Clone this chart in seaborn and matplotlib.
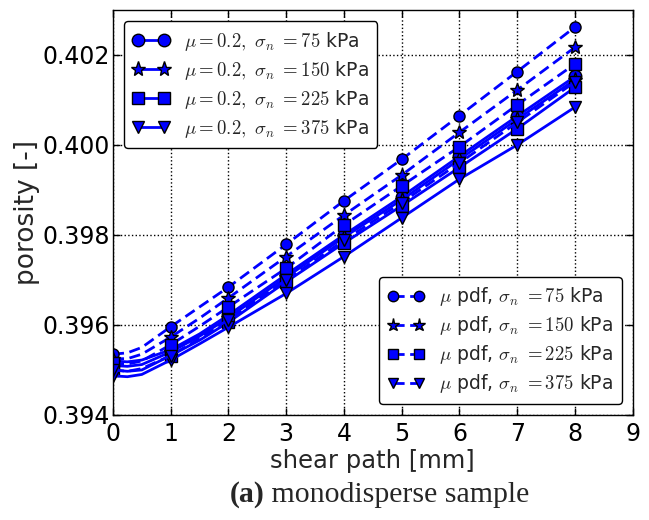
import matplotlib
matplotlib.use("Agg")
import matplotlib.pyplot as plt
import seaborn as sns
from matplotlib.lines import Line2D

sns.set_theme(style="ticks")
plt.rcParams['font.family'] = ['DejaVu Sans']
plt.rcParams['mathtext.fontset'] = 'cm'

# shear path [mm]
shear = [0, 0.25, 0.5, 1, 1.5, 2, 3, 4, 5, 6, 7, 8]
marker_idx = [0, 3, 5, 6, 7, 8, 9, 10, 11]

# mu = 0.2 (solid)
s75 = [0.39520, 0.39518, 0.39522, 0.39545, 0.39580, 0.39622, 0.39712, 0.39800, 0.39885, 0.39975, 0.40064, 0.40152]
s150 = [0.39510, 0.39508, 0.39512, 0.39540, 0.39575, 0.39616, 0.39706, 0.39795, 0.39878, 0.39968, 0.40057, 0.40145]
s225 = [0.39500, 0.39497, 0.39500, 0.39532, 0.39566, 0.39606, 0.39696, 0.39782, 0.39865, 0.39950, 0.40036, 0.40128]
s375 = [0.39487, 0.39485, 0.39490, 0.39522, 0.39558, 0.39595, 0.39670, 0.39752, 0.39838, 0.39924, 0.40000, 0.40084]

# mu pdf (dashed)
d75 = [0.39535, 0.39538, 0.39550, 0.39596, 0.39640, 0.39684, 0.39779, 0.39876, 0.39968, 0.40065, 0.40163, 0.40262]
d150 = [0.39525, 0.39525, 0.39535, 0.39573, 0.39615, 0.39660, 0.39752, 0.39844, 0.39933, 0.40028, 0.40122, 0.40217]
d225 = [0.39515, 0.39513, 0.39520, 0.39556, 0.39597, 0.39640, 0.39726, 0.39822, 0.39909, 0.39996, 0.40089, 0.40180]
d375 = [0.39500, 0.39497, 0.39503, 0.39532, 0.39570, 0.39612, 0.39700, 0.39788, 0.39872, 0.39960, 0.40050, 0.40140]

labels_solid = [r'$\mu{=}0.2,\ \sigma_n\ {=}75$ kPa', r'$\mu{=}0.2,\ \sigma_n\ {=}150$ kPa',
                r'$\mu{=}0.2,\ \sigma_n\ {=}225$ kPa', r'$\mu{=}0.2,\ \sigma_n\ {=}375$ kPa']
labels_dash = [r'$\mu$ pdf, $\sigma_n\ {=}75$ kPa', r'$\mu$ pdf, $\sigma_n\ {=}150$ kPa',
               r'$\mu$ pdf, $\sigma_n\ {=}225$ kPa', r'$\mu$ pdf, $\sigma_n\ {=}375$ kPa']
markers = ['o', '*', 's', 'v']
xticks = list(range(0, 10))
yticks = [0.394, 0.396, 0.398, 0.400, 0.402]
ytick_labels = ['0.394', '0.396', '0.398', '0.400', '0.402']

fig = plt.figure(figsize=(6.49, 5.2), dpi=100)
ax = fig.add_axes([0.174, 0.202, 0.801, 0.779])

blue = '#0000ff'
dash_style = (0, (4, 2))
solid_handles = []
dash_handles = []
for ys, m in zip([s75, s150, s225, s375], markers):
    ms = 11 if m == '*' else 9
    sns.lineplot(x=shear, y=ys, ax=ax, color=blue, lw=2, marker=m, markersize=ms,
                 markevery=marker_idx, markerfacecolor=blue, markeredgecolor='black',
                 markeredgewidth=1, linestyle='-', legend=False, sort=False)
    solid_handles.append(Line2D([], [], color=blue, lw=2, marker=m, markersize=ms,
                                markerfacecolor=blue, markeredgecolor='black', markeredgewidth=1))
for ys, m in zip([d75, d150, d225, d375], markers):
    ms = 10 if m == '*' else 8
    sns.lineplot(x=shear, y=ys, ax=ax, color=blue, lw=2, marker=m, markersize=ms,
                 markevery=marker_idx, markerfacecolor=blue, markeredgecolor='black',
                 markeredgewidth=1, legend=False, sort=False)
    ax.get_lines()[-1].set_linestyle(dash_style)
    dash_handles.append(Line2D([], [], color=blue, lw=2, linestyle=dash_style, marker=m,
                               markersize=ms - 0.5, markerfacecolor=blue,
                               markeredgecolor='black', markeredgewidth=1))

ax.set_xlim(0, 9)
ax.set_ylim(0.394, 0.403)
ax.set_xticks(xticks)
ax.set_yticks(yticks)
ax.set_yticklabels(ytick_labels)
ax.tick_params(direction='in', top=True, right=True, labelsize=17, length=5, width=1,
               colors='black', pad=2)
ax.tick_params(axis='x', pad=5)
ax.grid(True, linestyle=':', color='black', lw=1)
for sp in ax.spines.values():
    sp.set_color('black')
    sp.set_linewidth(1)
ax.set_xlabel('shear path [mm]', fontsize=17.5, labelpad=2)
ax.set_ylabel('porosity [-]', fontsize=19, labelpad=2)

leg_kw = dict(numpoints=2, fontsize=13.5, frameon=True, fancybox=True, framealpha=1,
              edgecolor='black', handlelength=2.0, handletextpad=0.75, borderpad=0.45,
              borderaxespad=0.6, labelspacing=0.32)
leg1 = ax.legend(solid_handles, labels_solid, loc='upper left', **leg_kw)
leg1.get_frame().set_linewidth(1)
ax.add_artist(leg1)
leg2 = ax.legend(dash_handles, labels_dash, loc='lower right', **leg_kw)
leg2.get_frame().set_linewidth(1)

# caption
renderer = fig.canvas.get_renderer()
cap_y = 0.035
ta = fig.text(0.0, cap_y, '(a)', fontsize=21.5, fontweight='bold', ha='left', va='baseline',
              family='Liberation Serif')
tb = fig.text(0.0, cap_y, ' monodisperse sample', fontsize=21.5, ha='left', va='baseline',
              family='Liberation Serif')
wa = ta.get_window_extent(renderer).width
wb = tb.get_window_extent(renderer).width
W = fig.bbox.width
x0 = (W - wa - wb) / 2.0 + 55
ta.set_x(x0 / W)
tb.set_x((x0 + wa) / W)

fig.savefig('out.png', dpi=100)
